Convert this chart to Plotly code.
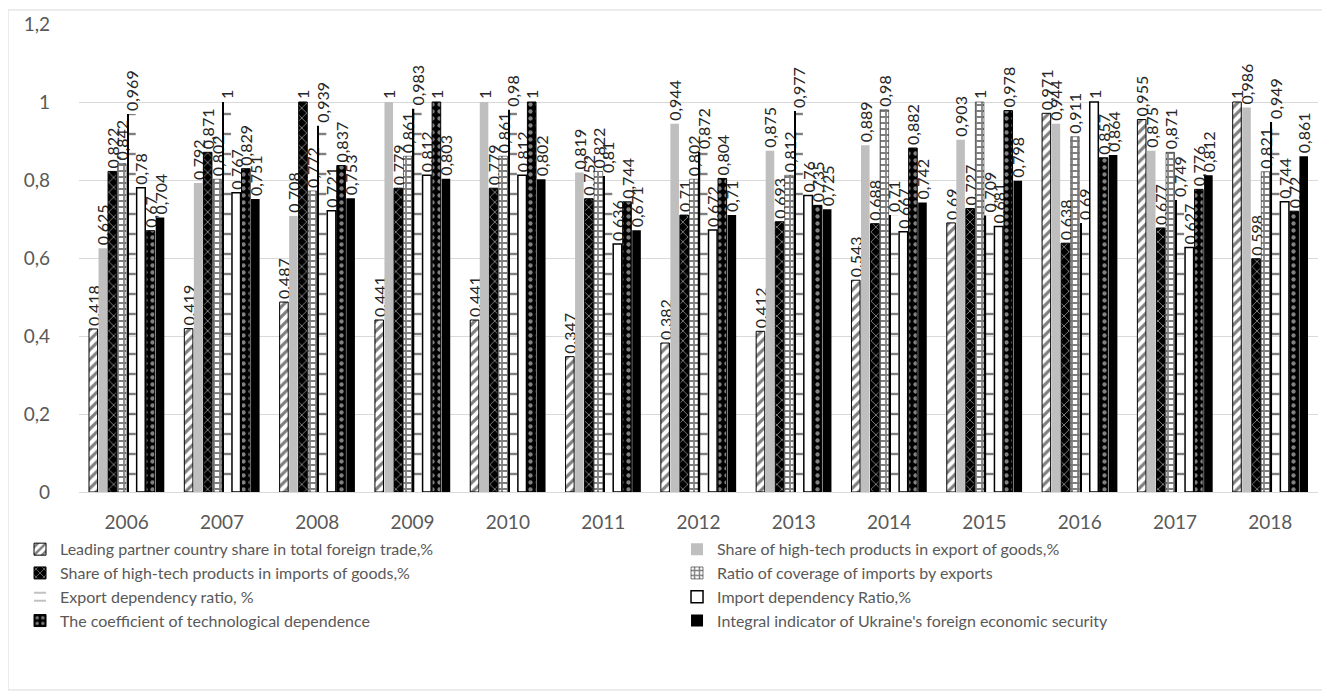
import plotly.graph_objects as go

years = ["2006", "2007", "2008", "2009", "2010", "2011", "2012",
         "2013", "2014", "2015", "2016", "2017", "2018"]

leading_partner = [0.418, 0.419, 0.487, 0.441, 0.441, 0.347, 0.382, 0.412, 0.543, 0.69, 0.971, 0.955, 1]
hitech_export = [0.625, 0.792, 0.708, 1, 1, 0.819, 0.944, 0.875, 0.889, 0.903, 0.944, 0.875, 0.986]
hitech_import = [0.822, 0.871, 1, 0.779, 0.779, 0.752, 0.71, 0.693, 0.688, 0.727, 0.638, 0.677, 0.598]
coverage_ratio = [0.842, 0.802, 0.772, 0.861, 0.861, 0.822, 0.802, 0.812, 0.98, 1, 0.911, 0.871, 0.821]
export_dependency = [0.969, 1, 0.939, 0.983, 0.98, 0.81, 0.872, 0.977, 0.71, 0.709, 0.69, 0.749, 0.949]
import_dependency = [0.78, 0.767, 0.721, 0.812, 0.812, 0.636, 0.672, 0.76, 0.667, 0.681, 1, 0.627, 0.744]
tech_dependence = [0.67, 0.829, 0.837, 1, 1, 0.744, 0.804, 0.735, 0.882, 0.978, 0.857, 0.776, 0.72]
integral_indicator = [0.704, 0.751, 0.753, 0.803, 0.802, 0.671, 0.71, 0.725, 0.742, 0.798, 0.864, 0.812, 0.861]

series_names = [
    "Leading partner country share in total foreign trade,%",
    "Share of high-tech products in export of goods,%",
    "Share of high-tech products in imports of goods,%",
    "Ratio of coverage of imports by exports",
    "Export dependency ratio, %",
    "Import dependency Ratio,%",
    "The coefficient of technological dependence",
    "Integral indicator of Ukraine's foreign economic security",
]
series_values = [leading_partner, hitech_export, hitech_import, coverage_ratio,
                 export_dependency, import_dependency, tech_dependence, integral_indicator]

styles = [
    dict(color="white", line=dict(color="black", width=1),
         pattern=dict(shape="/", fgcolor="black", bgcolor="white", size=7, solidity=0.45)),
    dict(color="#BFBFBF", line=dict(width=0)),
    dict(color="black", line=dict(color="black", width=1),
         pattern=dict(shape="x", fgcolor="white", bgcolor="black", size=7, solidity=0.25)),
    dict(color="white", line=dict(color="black", width=0.5),
         pattern=dict(shape="+", fgcolor="black", bgcolor="white", size=6, solidity=0.5)),
    dict(color="rgba(255,255,255,0)", line=dict(width=0),
         pattern=dict(shape="-", fgcolor="black", bgcolor="rgba(255,255,255,0)", size=20, solidity=0.12)),
    dict(color="white", line=dict(color="black", width=1.5)),
    dict(color="black", line=dict(color="black", width=1),
         pattern=dict(shape=".", fgcolor="white", bgcolor="black", size=7, solidity=0.3)),
    dict(color="black", line=dict(width=0)),
]


def fmt(v):
    s = ("%g" % v)
    return s.replace(".", ",")


fig = go.Figure()
for i, (name, vals, st) in enumerate(zip(series_names, series_values, styles)):
    fig.add_trace(go.Bar(
        x=years, y=vals, name=name, marker=st, offsetgroup=str(i),
        text=[fmt(v) for v in vals], textposition="outside", textangle=-90,
        constraintext="none", cliponaxis=False,
        textfont=dict(family="Lato", size=16, color="#262626"),
    ))
    if i == 4:
        # thin vertical stroke at the left edge of the export-dependency bars
        fig.add_trace(go.Bar(
            x=years, y=vals, name=name, showlegend=False, hoverinfo="skip",
            offsetgroup=str(i), offset=0.004, width=0.014,
            marker=dict(color="black", line=dict(width=0)),
        ))

fig.update_layout(
    width=1330, height=694,
    margin=dict(l=71, r=20, t=16, b=210, autoexpand=False),
    paper_bgcolor="white", plot_bgcolor="white",
    barmode="group", bargap=0.2, bargroupgap=0.1,
    separators=", ",
    font=dict(family="Lato", size=16, color="#595959"),
    showlegend=True,
    legend=dict(orientation="h", x=-0.0476, xanchor="left", y=-0.086, yanchor="top",
                entrywidth=612, entrywidthmode="pixels", traceorder="normal",
                bgcolor="rgba(0,0,0,0)",
                font=dict(family="Lato", size=16, color="#595959"),
                itemclick=False, tracegroupgap=0),
    xaxis=dict(showgrid=False, showline=True, linecolor="#D9D9D9", linewidth=1,
               ticks="", ticklabelstandoff=13, tickfont=dict(size=19, color="#595959")),
    yaxis=dict(range=[0, 1.2], dtick=0.2, showgrid=True, gridcolor="#D9D9D9", gridwidth=1,
               zeroline=False, showline=False, ticks="", ticklabelstandoff=28,
               tickfont=dict(size=19, color="#595959")),
    shapes=[dict(type="rect", xref="paper", yref="paper", x0=-0.0573, x1=1.008,
                 y0=-0.423, y1=1.03, line=dict(color="#D9D9D9", width=1),
                 fillcolor="rgba(0,0,0,0)", layer="below")],
)

fig.write_html("out.html")
